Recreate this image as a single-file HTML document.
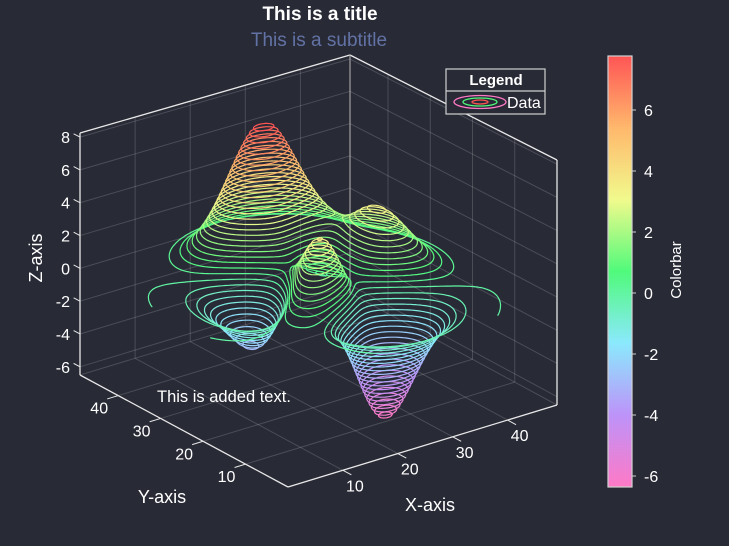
<!DOCTYPE html>
<html><head><meta charset="utf-8"><style>
html,body{margin:0;padding:0;background:#282a36;}
svg{display:block;font-family:"Liberation Sans",Arial,sans-serif;}
</style></head><body>
<svg id="chart" width="729" height="546" viewBox="0 0 729 546">
<rect width="729" height="546" fill="#282a36"/>
<g id="grid"></g>
<g id="edges"></g>
<g id="contours"></g>
<g id="ticks"></g>
<text x="320" y="20" text-anchor="middle" font-size="19" font-weight="bold" fill="#ffffff">This is a title</text>
<text x="319" y="46" text-anchor="middle" font-size="19" fill="#6272a4">This is a subtitle</text>
<text x="157" y="402" font-size="16.5" fill="#ffffff">This is added text.</text>
<text x="430" y="511" text-anchor="middle" font-size="18" fill="#ffffff">X-axis</text>
<text x="162" y="503" text-anchor="middle" font-size="18" fill="#ffffff">Y-axis</text>
<text x="0" y="0" transform="translate(42,258) rotate(-90)" text-anchor="middle" font-size="18" fill="#ffffff">Z-axis</text>
<g>
<rect x="446" y="69" width="99" height="45" fill="#282a36" stroke="#d0d0d0" stroke-width="1.2"/>
<line x1="446" y1="91" x2="545" y2="91" stroke="#d0d0d0" stroke-width="1.2"/>
<text x="496" y="85" text-anchor="middle" font-size="15" font-weight="bold" fill="#ffffff">Legend</text>
<g>
<ellipse cx="480" cy="102" rx="26" ry="6.5" fill="none" stroke="#ff79c6" stroke-width="1.3"/>
<ellipse cx="480" cy="102" rx="17" ry="4" fill="none" stroke="#50fa7b" stroke-width="1.3"/>
<ellipse cx="480" cy="102" rx="8" ry="2" fill="none" stroke="#ff5555" stroke-width="1.3"/>
<text x="507" y="108" font-size="16" fill="#ffffff">Data</text>
</g>
</g>
<defs><linearGradient id="cbg" x1="0" y1="1" x2="0" y2="0">
<stop offset="0" stop-color="#ff79c6"/><stop offset="0.1667" stop-color="#bd93f9"/><stop offset="0.3333" stop-color="#8be9fd"/><stop offset="0.5" stop-color="#50fa7b"/><stop offset="0.6667" stop-color="#f1fa8c"/><stop offset="0.8333" stop-color="#ffb86c"/><stop offset="1" stop-color="#ff5555"/>
</linearGradient></defs>
<rect x="608" y="56" width="24" height="431" fill="url(#cbg)" stroke="#d0d0d0" stroke-width="1.2"/>
<g id="cbticks"></g>
<text x="0" y="0" transform="translate(681,270) rotate(-90)" text-anchor="middle" font-size="15" fill="#ffffff">Colorbar</text>
</svg>
<script>
// ---- data ----
const xTicks = [10, 20, 30, 40];
const yTicks = [10, 20, 30, 40];
const zTicks = [-6, -4, -2, 0, 2, 4, 6, 8];
const cbTicks = [-6, -4, -2, 0, 2, 4, 6];
// surface term coefficients (peaks surface)
const termA = [3];
const termB = [-10];
const termC = [-1/3];
const levelMin = [-6.36];
const levelMax = [7.77];
const levelCount = [50];
const gridN = 100;
const dataMax = 49;

const NS = "http://www.w3.org/2000/svg";
const zlo = -6.5, zhi = 8.25;
const P0 = [288, 487], PX = [557, 405], PY = [80, 375], PXY = [350, 293];
const H0 = 246, HX = 245, HY = 242, HXY = 238;
function proj(x, y, z) {
  const u = x / dataMax, v = y / dataMax;
  const a = (1-u)*(1-v), b = u*(1-v), c = (1-u)*v, d = u*v;
  const bx = a*P0[0] + b*PX[0] + c*PY[0] + d*PXY[0];
  const by = a*P0[1] + b*PX[1] + c*PY[1] + d*PXY[1];
  const h = a*H0 + b*HX + c*HY + d*HXY;
  return [bx, by - (z - zlo) / (zhi - zlo) * h];
}
function el(tag, attrs, parent) {
  const e = document.createElementNS(NS, tag);
  for (const k in attrs) e.setAttribute(k, attrs[k]);
  parent.appendChild(e);
  return e;
}
function surf(i, j) {
  const x = -3 + 6 * i / dataMax, y = -3 + 6 * j / dataMax;
  return termA[0]*(1-x)*(1-x)*Math.exp(-x*x-(y+1)*(y+1))
       + termB[0]*(x/5 - x*x*x - Math.pow(y,5))*Math.exp(-x*x-y*y)
       + termC[0]*Math.exp(-(x+1)*(x+1)-y*y);
}
const stops = [[255,121,198],[189,147,249],[139,233,253],[80,250,123],[241,250,140],[255,184,108],[255,85,85]];
function cmap(v) {
  let t = (v - levelMin[0]) / (levelMax[0] - levelMin[0]);
  t = Math.max(0, Math.min(1, t)) * (stops.length - 1);
  const k = Math.min(stops.length - 2, Math.floor(t)), f = t - k;
  const c = stops[k].map((s, q) => Math.round(s + (stops[k+1][q] - s) * f));
  return "rgb(" + c.join(",") + ")";
}
const L = (p, q, col, w, parent, name) => {
  const a = proj(...p), b = proj(...q);
  const ln = el("line", {x1: a[0], y1: a[1], x2: b[0], y2: b[1], stroke: col, "stroke-width": w}, parent);
  
  
};
// grid
const g = document.getElementById("grid");
const gc = "rgba(255,255,255,0.16)";
xTicks.forEach(t => { L([t,dataMax,zlo],[t,dataMax,zhi],gc,1,g,'grid-line'); L([t,0,zlo],[t,dataMax,zlo],gc,1,g,'grid-line'); });
yTicks.forEach(t => { L([dataMax,t,zlo],[dataMax,t,zhi],gc,1,g,'grid-line'); L([0,t,zlo],[dataMax,t,zlo],gc,1,g,'grid-line'); });
zTicks.forEach(t => { L([0,dataMax,t],[dataMax,dataMax,t],gc,1,g,'grid-line'); L([dataMax,0,t],[dataMax,dataMax,t],gc,1,g,'grid-line'); });
L([0,dataMax,zlo],[dataMax,dataMax,zlo],gc,1,g,'pane-edge');
L([dataMax,0,zlo],[dataMax,dataMax,zlo],gc,1,g,'pane-edge');
// edges
const e = document.getElementById("edges");
const ec = "#e8e8e8";
L([0,dataMax,zhi],[dataMax,dataMax,zhi],ec,1.3,e,'box-edge');
L([dataMax,dataMax,zhi],[dataMax,0,zhi],ec,1.3,e,'box-edge');
L([0,dataMax,zlo],[0,dataMax,zhi],ec,1.3,e,'z-axis-line');
L([dataMax,dataMax,zlo],[dataMax,dataMax,zhi],"#aaaaaa",1.1,e,'box-edge');
L([dataMax,0,zlo],[dataMax,0,zhi],ec,1.3,e,'box-edge');
L([0,0,zlo],[dataMax,0,zlo],ec,1.3,e,'x-axis-line');
L([0,0,zlo],[0,dataMax,zlo],ec,1.3,e,'y-axis-line');
// ticks
const tk = document.getElementById("ticks");
function label(x, y, s, anchor, name) {
  const t = el("text", {x: x, y: y, "font-size": 16, fill: "#ffffff", "text-anchor": anchor}, tk);
  
  
  t.textContent = s;
}
xTicks.forEach(t => {
  const a = proj(t,0,zlo); L([t,0,zlo],[t,-2,zlo],ec,1,tk,'x-tick');
  label(a[0]+12, a[1]+21, t, "middle", 'x-tick-label');
});
yTicks.forEach(t => {
  const a = proj(0,t,zlo); L([0,t,zlo],[-2,t,zlo],ec,1,tk,'y-tick');
  label(a[0]-19, a[1]+18, t, "middle", 'y-tick-label');
});
zTicks.forEach(t => {
  const a = proj(0,dataMax,t); L([0,dataMax,t],[0,dataMax+1.5,t],ec,1,tk,'z-tick');
  label(a[0]-10, a[1]+6, t, "end", 'z-tick-label');
});
// colorbar ticks
const cb = document.getElementById("cbticks");
cbTicks.forEach(v => {
  const y = 487 - (v - levelMin[0]) / (levelMax[0] - levelMin[0]) * 431;
  const ln = el("line", {x1: 632, y1: y, x2: 636, y2: y, stroke: "#d0d0d0", "stroke-width": 1}, cb);
  
  
  const t = el("text", {x: 644, y: y + 6, "font-size": 16, fill: "#ffffff"}, cb);
  
  
  t.textContent = v;
});
// contours via marching squares
const N = gridN, Z = [];
for (let a = 0; a <= N; a++) { Z.push([]); for (let b = 0; b <= N; b++) Z[a].push(surf(a*dataMax/N, b*dataMax/N)); }
const cg = document.getElementById("contours");
for (let k = 0; k < levelCount[0]; k++) {
  const lev = levelMin[0] + (levelMax[0] - levelMin[0]) * k / (levelCount[0] - 1);
  let d = "";
  for (let a = 0; a < N; a++) for (let b = 0; b < N; b++) {
    const c = [[a,b,Z[a][b]],[a+1,b,Z[a+1][b]],[a+1,b+1,Z[a+1][b+1]],[a,b+1,Z[a][b+1]]];
    const pts = [];
    for (let q = 0; q < 4; q++) {
      const p = c[q], r = c[(q+1)%4];
      if ((p[2] < lev) !== (r[2] < lev)) {
        const f = (lev - p[2]) / (r[2] - p[2]);
        pts.push(proj((p[0] + (r[0]-p[0])*f) * dataMax / N, (p[1] + (r[1]-p[1])*f) * dataMax / N, lev));
      }
    }
    for (let q = 0; q + 1 < pts.length; q += 2)
      d += "M" + pts[q][0].toFixed(1) + " " + pts[q][1].toFixed(1) + "L" + pts[q+1][0].toFixed(1) + " " + pts[q+1][1].toFixed(1);
  }
  if (d) {
    const p = el("path", {d: d, fill: "none", stroke: cmap(lev), "stroke-width": 1.2, "stroke-linecap": "round"}, cg);
    
    
  }
}
</script>
</body></html>
